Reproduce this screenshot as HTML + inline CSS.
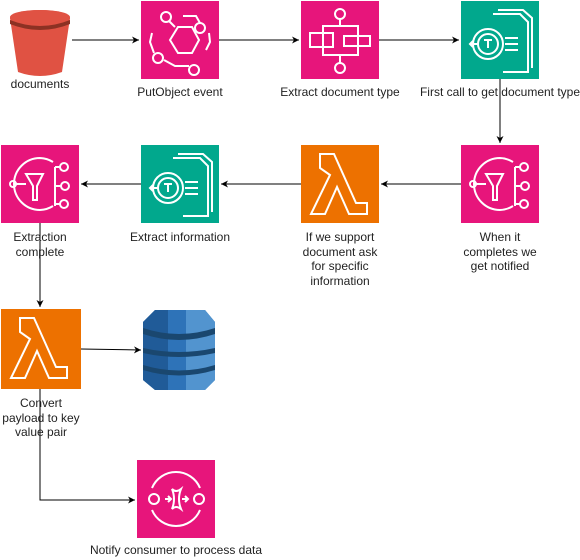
<!DOCTYPE html>
<html><head><style>
body{margin:0;width:580px;height:560px;background:#fff;position:relative;font-family:"Liberation Sans",sans-serif;font-size:12px;color:#222;overflow:hidden}
.l{position:absolute;text-align:center;line-height:14.5px;width:160px}
</style></head><body>
<svg width="580" height="560" style="position:absolute;left:0;top:0">
<defs><marker id="a" markerWidth="8" markerHeight="8" refX="7" refY="4" orient="auto" markerUnits="userSpaceOnUse"><path d="M0,0.5 L7,4 L0,7.5 L2,4z" fill="#000"/></marker></defs>
<!-- bucket -->
<path d="M10,18 L18,72 Q40,80 62,72 L70,18z" fill="#e05243"/>
<ellipse cx="40" cy="18" rx="30" ry="8" fill="#e05243"/>
<path d="M10,20 Q40,32 70,20 L70,24 Q40,36 10,24z" fill="#8c3123"/>
<ellipse cx="40" cy="17" rx="30" ry="7" fill="#e05243"/>
<!-- row1 boxes -->
<rect x="141" y="1" width="78" height="78" fill="#e7157b"/>
<rect x="301" y="1" width="78" height="78" fill="#e7157b"/>
<rect x="461" y="1" width="78" height="78" fill="#01a88d"/>
<!-- row2 -->
<rect x="1" y="145" width="78" height="78" fill="#e7157b"/>
<rect x="141" y="145" width="78" height="78" fill="#01a88d"/>
<rect x="301" y="145" width="78" height="78" fill="#ed7100"/>
<rect x="461" y="145" width="78" height="78" fill="#e7157b"/>
<!-- row3 -->
<rect x="1" y="309" width="80" height="80" fill="#ed7100"/>
<rect x="137" y="460" width="78" height="78" fill="#e7157b"/>
<!-- dynamo -->
<path d="M143,322 L155,310 L205,310 L215,322 L215,380 L205,390 L155,390 L143,380z" fill="#2e73b8"/>
<path d="M186,310 L205,310 L215,322 L215,380 L205,390 L186,390z" fill="#5294cf"/>
<path d="M143,322 L155,310 L168,310 L168,390 L155,390 L143,380z" fill="#205b98"/>
<path d="M143,328 Q179,340 215,328 L215,334 Q179,346 143,334z M143,348 Q179,356 215,348 L215,353 Q179,361 143,353z M143,365 Q179,376 215,365 L215,370 Q179,381 143,370z" fill="#1a476f"/>
<g fill="none" stroke="#fff" stroke-width="2">
<!-- eventbridge -->
<path d="M170,40 L178,27 L192,27 L199,40 L192,53 L178,53z"/>
<circle cx="166" cy="17" r="5"/><circle cx="200" cy="28" r="5"/><circle cx="158" cy="58" r="5"/><circle cx="194" cy="70" r="5"/>
<path d="M169,21 L175,27 M183,16 L196,16 L200,23 M152,33 L150,42 L154,53 M209,33 L210,42 L206,50 M164,60 L175,66 L189,66"/>
<!-- step functions -->
<circle cx="340" cy="14" r="5"/><circle cx="340" cy="68" r="5"/>
<path d="M340,19 L340,26 M323,26 L358,26 L358,55 L323,55z M310,33 L333,33 L333,47 L310,47z M344,36 L370,36 L370,46 L344,46z M340,55 L340,63"/>
<!-- textract 1 -->
<circle cx="488" cy="44" r="15"/><circle cx="488" cy="44" r="10"/>
<path d="M493,14 L520,14 L528,22 L528,72 L503,72 M498,10 L523,10 L532,18 L532,68 M505,38 L518,38 M505,44 L518,44 M505,50 L518,50 M470,44 L478,44 M473,41 L470,44 L473,47 M484,40 L492,40 M488,40 L488,48"/>
<!-- textract 2 -->
<circle cx="168" cy="188" r="15"/><circle cx="168" cy="188" r="10"/>
<path d="M173,158 L200,158 L208,166 L208,216 L183,216 M178,154 L203,154 L212,162 L212,212 M185,182 L198,182 M185,188 L198,188 M185,194 L198,194 M150,188 L158,188 M153,185 L150,188 L153,191 M164,184 L172,184 M168,184 L168,192"/>
<!-- SNS-like icons -->
<path d="M40,158 A26,26 0 1 0 40,210 M40,158 A26,26 0 0 1 53,162 M40,210 A26,26 0 0 0 53,206 M26,174 L43,174 L37,186 L37,200 L33,200 L33,186z M14,184 L26,184 M55,167 L55,206 M55,167 L60,167 M55,186 L61,186 M55,204 L60,204"/>
<circle cx="13" cy="184" r="3"/><circle cx="64" cy="167" r="4"/><circle cx="65" cy="186" r="4"/><circle cx="64" cy="204" r="4"/>
<path d="M500,158 A26,26 0 1 0 500,210 M500,158 A26,26 0 0 1 513,162 M500,210 A26,26 0 0 0 513,206 M486,174 L503,174 L497,186 L497,200 L493,200 L493,186z M474,184 L486,184 M515,167 L515,206 M515,167 L520,167 M515,186 L521,186 M515,204 L520,204"/>
<circle cx="473" cy="184" r="3"/><circle cx="524" cy="167" r="4"/><circle cx="525" cy="186" r="4"/><circle cx="524" cy="204" r="4"/>
<!-- lambda -->
<path d="M320,154 L334,154 L356,203 L367,203 L367,214 L349,214 L337,187 L325,214 L311,214 L330,175 L320,168z"/>
<path d="M10,318 L24,318 L46,367 L57,367 L57,378 L39,378 L27,351 L15,378 L1,378 L20,339 L10,332z" transform="translate(10,0)"/>
<!-- sqs -->
<path d="M152,488 A26,26 0 0 1 200,488 M152,510 A26,26 0 0 0 200,510 M165,499 L171,499 M168,496 L171,499 L168,502 M182,499 L188,499 M185,496 L188,499 L185,502 M172,489 Q176,499 172,509 Q176,505 181,509 Q177,499 181,489 Q176,493 172,489z"/>
<circle cx="154" cy="499" r="5"/><circle cx="199" cy="499" r="5"/>
</g>
<g stroke="#000" stroke-width="1" fill="none" marker-end="url(#a)">
<path d="M72,40 L139,40"/>
<path d="M219,40 L299,40"/>
<path d="M379,40 L459,40"/>
<path d="M500,79 L500,143"/>
<path d="M461,184 L381,184"/>
<path d="M301,184 L221,184"/>
<path d="M141,184 L81,184"/>
<path d="M40,223 L40,307"/>
<path d="M81,349 L141,350"/>
<path d="M40,389 L40,500 L135,500"/>
</g>
</svg>
<div class="l" style="left:-40px;top:77px">documents</div>
<div class="l" style="left:100px;top:85px">PutObject event</div>
<div class="l" style="left:260px;top:85px">Extract document type</div>
<div class="l" style="left:420px;top:85px;width:180px;left:410px">First call to get document type</div>
<div class="l" style="left:-40px;top:230px">Extraction<br>complete</div>
<div class="l" style="left:100px;top:230px">Extract information</div>
<div class="l" style="left:260px;top:230px;width:160px">If we support<br>document ask<br>for specific<br>information</div>
<div class="l" style="left:420px;top:230px">When it<br>completes we<br>get notified</div>
<div class="l" style="left:-39px;top:396px">Convert<br>payload to key<br>value pair</div>
<div class="l" style="left:76px;top:543px;width:200px">Notify consumer to process data</div>
</body></html>
